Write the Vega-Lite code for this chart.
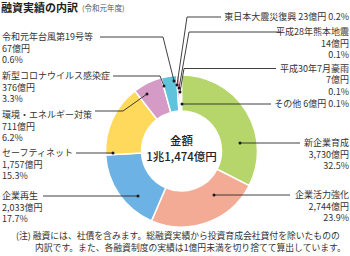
{
  "$schema": "https://vega.github.io/schema/vega-lite/v6.json",
  "width": 350,
  "height": 256,
  "autosize": "none",
  "padding": 0,
  "background": "white",
  "config": {"view": {"stroke": null}, "font": "Noto Sans CJK JP", "text": {"font": "Noto Sans CJK JP"}},
  "datasets": {
    "slices": [
      {"cat": "新企業育成", "value": 3730, "pct": 32.5, "ord": 1},
      {"cat": "企業活力強化", "value": 2744, "pct": 23.9, "ord": 2},
      {"cat": "企業再生", "value": 2033, "pct": 17.7, "ord": 3},
      {"cat": "セーフティネット", "value": 1757, "pct": 15.3, "ord": 4},
      {"cat": "環境・エネルギー対策", "value": 711, "pct": 6.2, "ord": 5},
      {"cat": "新型コロナウイルス感染症", "value": 376, "pct": 3.3, "ord": 6},
      {"cat": "令和元年台風第19号等", "value": 67, "pct": 0.6, "ord": 7},
      {"cat": "東日本大震災復興", "value": 23, "pct": 0.2, "ord": 8},
      {"cat": "平成28年熊本地震", "value": 14, "pct": 0.1, "ord": 9},
      {"cat": "平成30年7月豪雨", "value": 7, "pct": 0.1, "ord": 10},
      {"cat": "その他", "value": 6, "pct": 0.1, "ord": 11}
    ],
    "labels": [
      {"cat": "令和元年台風第19号等", "lx": 2, "ly": 33, "side": "left", "inline": false},
      {"cat": "新型コロナウイルス感染症", "lx": 2, "ly": 72, "side": "left", "inline": false},
      {"cat": "環境・エネルギー対策", "lx": 2, "ly": 111, "side": "left", "inline": false},
      {"cat": "セーフティネット", "lx": 2, "ly": 149, "side": "left", "inline": false},
      {"cat": "企業再生", "lx": 2, "ly": 192, "side": "left", "inline": false},
      {"cat": "東日本大震災復興", "lx": 349, "ly": 13, "side": "right", "inline": true},
      {"cat": "平成28年熊本地震", "lx": 349, "ly": 28, "side": "right", "inline": false},
      {"cat": "平成30年7月豪雨", "lx": 349, "ly": 64.5, "side": "right", "inline": false},
      {"cat": "その他", "lx": 349, "ly": 100, "side": "right", "inline": true},
      {"cat": "新企業育成", "lx": 349, "ly": 139, "side": "right", "inline": false},
      {"cat": "企業活力強化", "lx": 349, "ly": 191, "side": "right", "inline": false}
    ],
    "leaders": [
      {"cat": "令和元年台風第19号等", "i": 0, "x": 174, "y": 81},
      {"cat": "令和元年台風第19号等", "i": 1, "x": 163, "y": 37},
      {"cat": "令和元年台風第19号等", "i": 2, "x": 100, "y": 37},
      {"cat": "東日本大震災復興", "i": 0, "x": 177, "y": 85},
      {"cat": "東日本大震災復興", "i": 1, "x": 187, "y": 17},
      {"cat": "東日本大震災復興", "i": 2, "x": 221, "y": 17},
      {"cat": "平成28年熊本地震", "i": 0, "x": 179, "y": 88},
      {"cat": "平成28年熊本地震", "i": 1, "x": 189, "y": 32},
      {"cat": "平成28年熊本地震", "i": 2, "x": 281, "y": 32},
      {"cat": "平成30年7月豪雨", "i": 0, "x": 180, "y": 92},
      {"cat": "平成30年7月豪雨", "i": 1, "x": 184, "y": 68.5},
      {"cat": "平成30年7月豪雨", "i": 2, "x": 276, "y": 68.5},
      {"cat": "その他", "i": 0, "x": 182, "y": 104},
      {"cat": "その他", "i": 1, "x": 271, "y": 104},
      {"cat": "新企業育成", "i": 0, "x": 240, "y": 143},
      {"cat": "新企業育成", "i": 1, "x": 300, "y": 143},
      {"cat": "企業活力強化", "i": 0, "x": 214, "y": 195},
      {"cat": "企業活力強化", "i": 1, "x": 290, "y": 195},
      {"cat": "企業再生", "i": 0, "x": 138, "y": 196},
      {"cat": "企業再生", "i": 1, "x": 43, "y": 196},
      {"cat": "セーフティネット", "i": 0, "x": 113, "y": 153},
      {"cat": "セーフティネット", "i": 1, "x": 76, "y": 153},
      {"cat": "環境・エネルギー対策", "i": 0, "x": 147, "y": 94},
      {"cat": "環境・エネルギー対策", "i": 1, "x": 123, "y": 111},
      {"cat": "環境・エネルギー対策", "i": 2, "x": 95, "y": 111},
      {"cat": "新型コロナウイルス感染症", "i": 0, "x": 164, "y": 86},
      {"cat": "新型コロナウイルス感染症", "i": 1, "x": 160, "y": 76},
      {"cat": "新型コロナウイルス感染症", "i": 2, "x": 113, "y": 76}
    ]
  },
  "layer": [
    {
      "data": {"name": "slices"},
      "mark": {"type": "arc", "innerRadius": 40, "outerRadius": 76, "stroke": "white", "strokeWidth": 1.5},
      "encoding": {
        "x": {"datum": 181.5, "type": "quantitative", "scale": {"domain": [0, 350]}, "axis": null},
        "y": {"datum": 151, "type": "quantitative", "scale": {"domain": [0, 256], "reverse": true}, "axis": null},
        "theta": {"field": "value", "type": "quantitative", "stack": true},
        "order": {"field": "ord", "type": "quantitative"},
        "color": {
          "field": "cat", "type": "nominal", "legend": null,
          "scale": {
            "domain": ["新企業育成", "企業活力強化", "企業再生", "セーフティネット", "環境・エネルギー対策", "新型コロナウイルス感染症", "令和元年台風第19号等", "東日本大震災復興", "平成28年熊本地震", "平成30年7月豪雨", "その他"],
            "range": ["#b6d56a", "#f4ab96", "#6db2e5", "#fed95c", "#d59ac5", "#5fc4db", "#ef8aa6", "#9dd0c3", "#b5b5b5", "#c5e0f0", "#d8d8d8"]
          }
        }
      }
    },
    {
      "data": {"name": "leaders"},
      "mark": {"type": "line", "color": "#2a2a2a", "strokeWidth": 0.9},
      "encoding": {
        "x": {"field": "x", "type": "quantitative", "scale": {"domain": [0, 350]}, "axis": null},
        "y": {"field": "y", "type": "quantitative", "scale": {"domain": [0, 256], "reverse": true}, "axis": null},
        "detail": {"field": "cat"},
        "order": {"field": "i", "type": "quantitative"}
      }
    },
    {
      "data": {"name": "leaders"},
      "transform": [{"filter": "datum.i == 0"}],
      "mark": {"type": "circle", "color": "#1a1a1a", "size": 9, "opacity": 1},
      "encoding": {
        "x": {"field": "x", "type": "quantitative", "scale": {"domain": [0, 350]}, "axis": null},
        "y": {"field": "y", "type": "quantitative", "scale": {"domain": [0, 256], "reverse": true}, "axis": null}
      }
    },
    {
      "data": {"name": "labels"},
      "transform": [
        {"filter": "datum.side == 'left'"},
        {"lookup": "cat", "from": {"data": {"name": "slices"}, "key": "cat", "fields": ["value", "pct"]}},
        {"calculate": "datum.inline ? datum.cat + ' ' + format(datum.value, ',') + '億円 ' + format(datum.pct, '.1f') + '%' : [datum.cat, format(datum.value, ',') + '億円', format(datum.pct, '.1f') + '%']", "as": "txt"}
      ],
      "mark": {"type": "text", "align": "left", "baseline": "top", "fontSize": 9, "lineHeight": 11.7, "color": "#333333"},
      "encoding": {
        "x": {"field": "lx", "type": "quantitative", "scale": {"domain": [0, 350]}, "axis": null},
        "y": {"field": "ly", "type": "quantitative", "scale": {"domain": [0, 256], "reverse": true}, "axis": null},
        "text": {"field": "txt"}
      }
    },
    {
      "data": {"name": "labels"},
      "transform": [
        {"filter": "datum.side == 'right'"},
        {"lookup": "cat", "from": {"data": {"name": "slices"}, "key": "cat", "fields": ["value", "pct"]}},
        {"calculate": "datum.inline ? datum.cat + ' ' + format(datum.value, ',') + '億円 ' + format(datum.pct, '.1f') + '%' : [datum.cat, format(datum.value, ',') + '億円', format(datum.pct, '.1f') + '%']", "as": "txt"}
      ],
      "mark": {"type": "text", "align": "right", "baseline": "top", "fontSize": 9, "lineHeight": 11.7, "color": "#333333"},
      "encoding": {
        "x": {"field": "lx", "type": "quantitative", "scale": {"domain": [0, 350]}, "axis": null},
        "y": {"field": "ly", "type": "quantitative", "scale": {"domain": [0, 256], "reverse": true}, "axis": null},
        "text": {"field": "txt"}
      }
    },
    {
      "data": {"values": [{"t": "金額", "cx": 181.5, "cy": 141.5, "fs": 11}, {"t": "1兆1,474億円", "cx": 181.5, "cy": 157.5, "fs": 12}]},
      "mark": {"type": "text", "align": "center", "baseline": "middle", "fontSize": 11.5, "fontWeight": 500, "color": "#222222"},
      "encoding": {
        "x": {"field": "cx", "type": "quantitative", "scale": {"domain": [0, 350]}, "axis": null},
        "y": {"field": "cy", "type": "quantitative", "scale": {"domain": [0, 256], "reverse": true}, "axis": null},
        "text": {"field": "t"}
      }
    },
    {
      "data": {"values": [{"t": "融資実績の内訳", "tx": 1, "ty": 8.5}]},
      "mark": {"type": "text", "align": "left", "baseline": "middle", "fontSize": 11, "fontWeight": "bold", "color": "#222222"},
      "encoding": {
        "x": {"field": "tx", "type": "quantitative", "scale": {"domain": [0, 350]}, "axis": null},
        "y": {"field": "ty", "type": "quantitative", "scale": {"domain": [0, 256], "reverse": true}, "axis": null},
        "text": {"field": "t"}
      }
    },
    {
      "data": {"values": [{"t": "(令和元年度)", "tx": 82, "ty": 8.5}]},
      "mark": {"type": "text", "align": "left", "baseline": "middle", "fontSize": 7.5, "color": "#555555"},
      "encoding": {
        "x": {"field": "tx", "type": "quantitative", "scale": {"domain": [0, 350]}, "axis": null},
        "y": {"field": "ty", "type": "quantitative", "scale": {"domain": [0, 256], "reverse": true}, "axis": null},
        "text": {"field": "t"}
      }
    },
    {
      "data": {"values": [
        {"t": "(注) 融資には、社債を含みます。総融資実績から投資育成会社貸付を除いたものの", "tx": 16, "ty": 236},
        {"t": "内訳です。また、各融資制度の実績は1億円未満を切り捨てて算出しています。", "tx": 35, "ty": 247.5}
      ]},
      "mark": {"type": "text", "align": "left", "baseline": "middle", "fontSize": 8.8, "color": "#333333"},
      "encoding": {
        "x": {"field": "tx", "type": "quantitative", "scale": {"domain": [0, 350]}, "axis": null},
        "y": {"field": "ty", "type": "quantitative", "scale": {"domain": [0, 256], "reverse": true}, "axis": null},
        "text": {"field": "t"}
      }
    }
  ]
}
